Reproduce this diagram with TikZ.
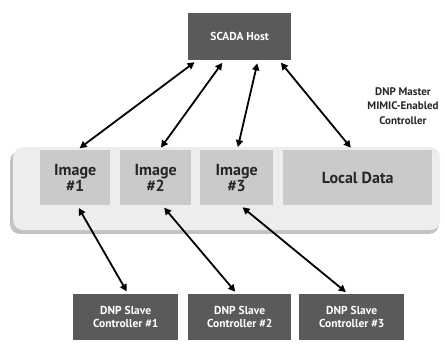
\documentclass[tikz,border=0pt]{standalone}
\usepackage{fontspec}
\setmainfont{PT Sans}
\usetikzlibrary{arrows.meta}
\definecolor{darkbox}{HTML}{5A5A5A}
\definecolor{lightbox}{HTML}{CACACA}
\definecolor{panel}{HTML}{EDEDED}
\definecolor{panelshadow}{HTML}{9A9A9A}
\tikzset{
  darknode/.style={fill=darkbox, text=white, font=\bfseries\fontsize{11.5}{13}\selectfont,
    inner sep=0pt, align=center, anchor=north west},
  imgnode/.style={fill=lightbox, text=black!85, font=\bfseries\fontsize{16}{16}\selectfont,
    inner sep=0pt, align=center, anchor=north west},
  link/.style={line width=1.8pt, {Triangle[length=7pt,width=7pt]}-{Triangle[length=7pt,width=7pt]},
    shorten <=3pt, shorten >=3pt},
}
\begin{document}
\begin{tikzpicture}[x=1pt, y=-1pt]
\useasboundingbox (0,0) rectangle (445,344);
% controller panel with drop shadow
\fill[panelshadow, rounded corners=10pt, opacity=0.6] (10,151) rectangle (439,234);
\node[fill=panel, rounded corners=10pt, minimum width=427pt, minimum height=83pt,
  inner sep=0pt, anchor=north west] (master) at (13,147) {};
% host
\node[darknode, minimum width=103pt, minimum height=47pt] (host) at (188,13) {SCADA Host};
% images and local data inside the master
\node[imgnode, minimum width=70pt, minimum height=55pt] (img1) at (40,150) {Image\\\#1};
\node[imgnode, minimum width=71pt, minimum height=55pt] (img2) at (120,150) {Image\\\#2};
\node[imgnode, minimum width=73pt, minimum height=55pt] (img3) at (200,150) {Image\\\#3};
\node[imgnode, minimum width=149pt, minimum height=55pt] (local) at (283,150) {Local Data};
% master label
\node[font=\bfseries\fontsize{11}{14.5}\selectfont, align=center, text=black!85] (mlabel) at (403,106)
  {DNP Master\\MIMIC-Enabled\\Controller};
% slaves
\node[darknode, minimum width=105pt, minimum height=46pt] (s1) at (73,294) {DNP Slave\\Controller \#1};
\node[darknode, minimum width=103pt, minimum height=46pt] (s2) at (188,294) {DNP Slave\\Controller \#2};
\node[darknode, minimum width=105pt, minimum height=46pt] (s3) at (299,294) {DNP Slave\\Controller \#3};
% host links
\draw[link] ([xshift=9pt]host.south west) -- ([xshift=2pt]img1.north);
\draw[link] ([xshift=36pt]host.south west) -- ([xshift=3.5pt]img2.north);
\draw[link] ([xshift=70pt]host.south west) -- ([xshift=0.5pt]img3.north);
\draw[link] ([xshift=91pt]host.south west) -- ([xshift=-5pt]local.north);
% slave links
\draw[link] ([xshift=2pt]img1.south) -- ([xshift=2.5pt]s1.north);
\draw[link] ([xshift=6.5pt]img2.south) -- ([xshift=-2.5pt]s2.north);
\draw[link] ([xshift=3.5pt]img3.south) -- ([xshift=-3.5pt]s3.north);
\end{tikzpicture}
\end{document}
